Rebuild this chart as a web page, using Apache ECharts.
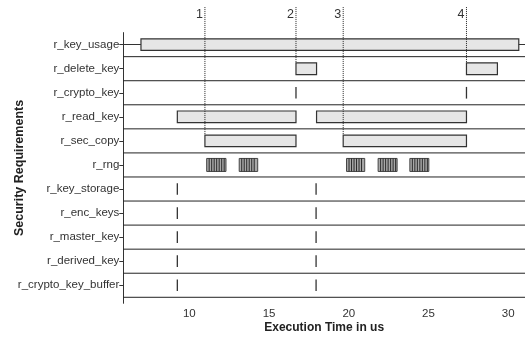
<!DOCTYPE html>
<html><head><meta charset="utf-8">
<script src="https://cdn.jsdelivr.net/npm/echarts@6/dist/echarts.min.js"></script>
<style>html,body{margin:0;padding:0;background:#fff}#c{width:525px;height:338px}</style>
</head><body><div id="c"></div>
<script>
const categories = ['r_key_usage','r_delete_key','r_crypto_key','r_read_key','r_sec_copy','r_rng',
  'r_key_storage','r_enc_keys','r_master_key','r_derived_key','r_crypto_key_buffer'];
const xTicks = [10, 15, 20, 25, 30];
// interval bars (row index, start, end) in us
const barRows  = [0, 1, 1, 3, 3, 4, 4];
const barStart = [6.97, 16.69, 27.38, 9.25, 17.98, 10.98, 19.65];
const barEnd   = [30.66, 17.98, 29.32, 16.69, 27.38, 16.69, 27.38];
// single events (row index, time)
const eventRows  = [2, 2, 6, 6, 7, 7, 8, 8, 9, 9, 10, 10];
const eventTimes = [16.69, 27.38, 9.25, 17.95, 9.25, 17.95, 9.25, 17.95, 9.25, 17.95, 9.25, 17.95];
// r_rng bursts
const rngRow = 5;
const rngStart = [11.09, 13.13, 19.86, 21.84, 23.83];
const rngEnd   = [12.30, 14.29, 21.00, 23.03, 25.02];
// numbered markers (time, row whose bar the dotted line stops at)
const markerLabels = ['1', '2', '3', '4'];
const markerTimes  = [10.98, 16.69, 19.65, 27.38];
const markerEndRow = [4, 1, 4, 1];

const BAR_H = 0.485;
const TEXT = '#333';
const FONT = 'Liberation Sans, Arial, sans-serif';

const chart = echarts.init(document.getElementById('c'), null, {renderer: 'canvas'});

const sepData = categories.map((c, i) => [i + 0.5]);

chart.setOption({
  animation: false,
  grid: {left: 123.3, right: 0, top: 32.6, bottom: 34.7, containLabel: false, outerBoundsMode: 'none'},
  xAxis: {
    type: 'value', min: 5.862, max: 31.05,
    name: 'Execution Time in us', nameLocation: 'middle', nameGap: 18, nameMoveOverlap: false,
    nameTextStyle: {fontFamily: FONT, fontWeight: 'bold', fontSize: 12, color: '#222', verticalAlign: 'top'},
    axisLine: {show: true, lineStyle: {color: '#333', width: 1}},
    axisTick: {show: true, inside: true, length: 5, customValues: xTicks, lineStyle: {color: '#333'}},
    axisLabel: {customValues: xTicks, fontFamily: FONT, fontSize: 11.5, color: TEXT, margin: 5},
    splitLine: {show: false}
  },
  yAxis: {
    type: 'value', inverse: true, min: -0.5, max: 10.75,
    name: 'Security Requirements', nameLocation: 'middle', nameGap: 97, nameRotate: 90, nameMoveOverlap: false,
    nameTextStyle: {fontFamily: FONT, fontWeight: 'bold', fontSize: 12.5, color: '#222'},
    axisLine: {show: true, lineStyle: {color: '#333', width: 1}},
    axisTick: {show: true, inside: false, length: 4, customValues: categories.map((c, i) => i), lineStyle: {color: '#333'}},
    axisLabel: {customValues: categories.map((c, i) => i), formatter: v => categories[Math.round(v)],
      fontFamily: FONT, fontSize: 11.5, color: TEXT, margin: 4},
    splitLine: {show: false}
  },
  series: [
    { // row separators
      type: 'custom', z: 1,
      data: sepData,
      renderItem: (params, api) => {
        const p = api.coord([0, api.value(0)]);
        const cs = params.coordSys;
        return {type: 'line', shape: {x1: cs.x, y1: p[1], x2: cs.x + cs.width, y2: p[1]},
          style: {stroke: '#222', lineWidth: 1}};
      }
    },
    { // interval bars
      type: 'custom', z: 2,
      data: barRows.map((r, i) => [barStart[i], barEnd[i], r]),
      renderItem: (params, api) => {
        const a = api.coord([api.value(0), api.value(2)]);
        const b = api.coord([api.value(1), api.value(2)]);
        const h = api.size([0, BAR_H])[1];
        return {type: 'rect', shape: {x: a[0], y: a[1] - h / 2, width: b[0] - a[0], height: h},
          style: {fill: '#e6e6e6', stroke: '#333', lineWidth: 1.2}};
      }
    },
    { // single events
      type: 'custom', z: 3,
      data: eventRows.map((r, i) => [eventTimes[i], r]),
      renderItem: (params, api) => {
        const a = api.coord([api.value(0), api.value(1)]);
        const h = api.size([0, BAR_H])[1];
        return {type: 'line', shape: {x1: a[0], y1: a[1] - h / 2, x2: a[0], y2: a[1] + h / 2},
          style: {stroke: '#333', lineWidth: 1.3}};
      }
    },
    { // rng bursts
      type: 'custom', z: 3,
      data: rngStart.map((s, i) => [s, rngEnd[i], rngRow]),
      renderItem: (params, api) => {
        const a = api.coord([api.value(0), api.value(2)]);
        const b = api.coord([api.value(1), api.value(2)]);
        const h = api.size([0, 0.54])[1];
        const y0 = a[1] - h / 2;
        const w = b[0] - a[0];
        const children = [{type: 'rect', shape: {x: a[0], y: y0, width: w, height: h},
          style: {fill: '#a8a8a8', stroke: '#444', lineWidth: 1}}];
        for (let x = a[0] + 2.5; x < b[0] - 1; x += 2.5) {
          children.push({type: 'line', shape: {x1: x, y1: y0, x2: x, y2: y0 + h},
            style: {stroke: '#2a2a2a', lineWidth: 1}});
        }
        return {type: 'group', children};
      }
    },
    { // numbered dotted marker lines
      type: 'custom', z: 5, clip: false,
      data: markerTimes.map((t, i) => [t, markerEndRow[i], i]),
      renderItem: (params, api) => {
        const top = api.coord([api.value(0), -1.56]);
        const end = api.coord([api.value(0), api.value(1)]);
        const h = api.size([0, BAR_H])[1];
        return {type: 'group', children: [
          {type: 'line', shape: {x1: top[0], y1: top[1], x2: top[0], y2: end[1] - h / 2},
            style: {stroke: '#222', lineWidth: 1, lineDash: [1, 1]}},
          {type: 'text', x: top[0] - 2, y: top[1] + 7,
            style: {text: markerLabels[api.value(2)], fill: TEXT, font: '12.5px ' + FONT,
              align: 'right', verticalAlign: 'middle'}}
        ]};
      }
    }
  ]
});
</script></body></html>
